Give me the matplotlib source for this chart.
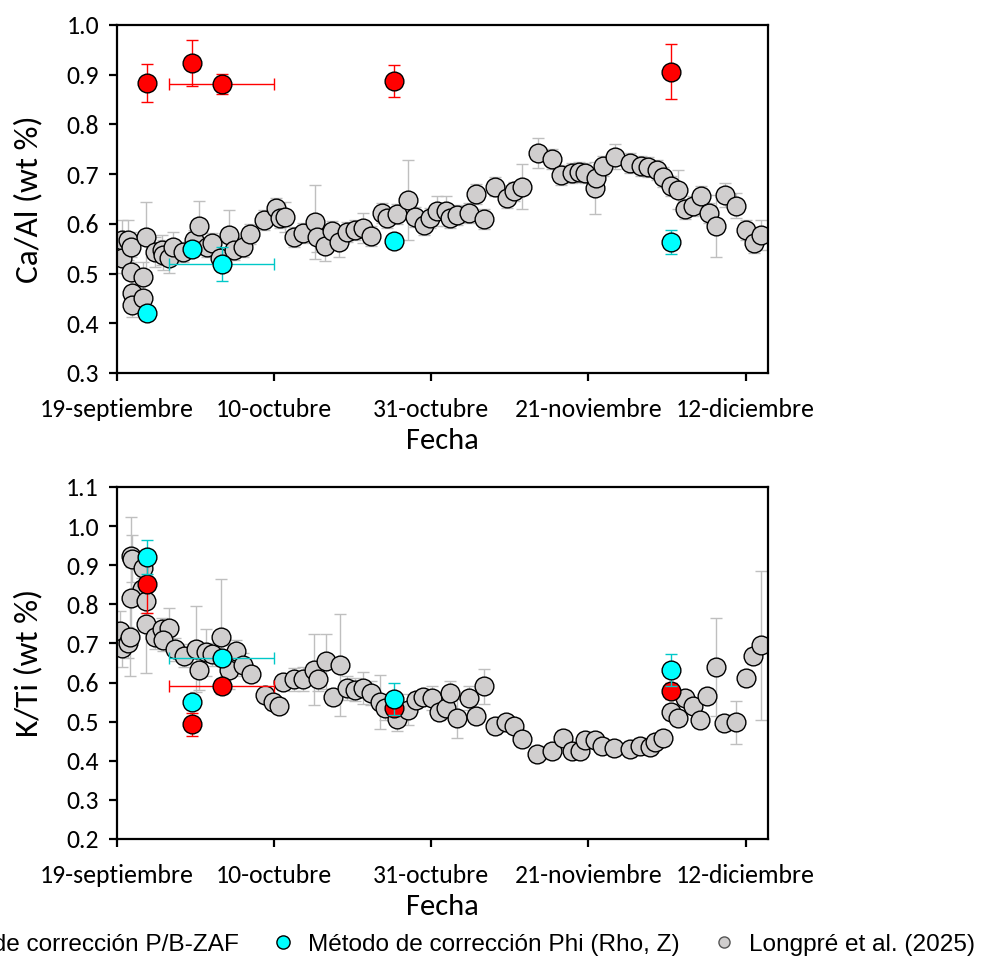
import matplotlib
matplotlib.use("Agg")
import matplotlib.pyplot as plt
from matplotlib.lines import Line2D
from matplotlib import font_manager as fm
import numpy as np

names = {f.name for f in fm.fontManager.ttflist}
TICK_FONT = "Carlito" if "Carlito" in names else "Lato"
LEG_FONT = "Liberation Sans"

# ---------------- data (x = days after 19-septiembre) ----------------
tick_days = [0, 21, 42, 63, 84]
tick_labels = ["19-septiembre", "10-octubre", "31-octubre", "21-noviembre", "12-diciembre"]

sample_days = [4, 10, 14, 37, 74]
sample_xerr = [0, 0, 7, 0, 0]

# Ca/Al panel
caal_pbzaf = [0.883, 0.924, 0.881, 0.887, 0.906]
caal_pbzaf_err = [0.038, 0.046, 0.020, 0.032, 0.055]
caal_phi = [0.420, 0.549, 0.519, 0.566, 0.563]
caal_phi_err = [0.01, 0.01, 0.034, 0.01, 0.024]

caal_long_x = [0.6, 0.6, 1.5, 1.8, 1.8, 2.0, 2.0, 3.5, 3.5, 3.9, 5.1, 6.0, 6.2, 6.9, 7.5,
               8.8, 10.3, 10.9, 12.0, 12.7, 13.8, 14.9, 15.6, 16.8, 17.8, 19.7, 21.3, 21.8,
               22.5, 23.6, 24.8, 26.5, 26.7, 27.8, 28.7, 29.6, 30.7, 31.8, 32.9, 33.9, 35.4,
               36.1, 37.4, 38.9, 39.8, 41.0, 41.8, 42.7, 43.9, 44.5, 45.4, 47.0, 48.0, 49.0,
               50.5, 52.1, 53.0, 54.1, 56.2, 58.1, 59.4, 60.8, 61.7, 62.6, 63.9, 64.0, 64.9,
               66.6, 68.6, 70.0, 71.0, 72.1, 73.0, 74.0, 75.0, 75.9, 77.0, 78.0, 79.1, 80.1,
               81.2, 82.7, 84.0, 85.1, 86.1]
caal_long_y = [0.568, 0.531, 0.568, 0.554, 0.504, 0.460, 0.437, 0.494, 0.450, 0.574, 0.544,
               0.547, 0.537, 0.531, 0.554, 0.544, 0.568, 0.596, 0.554, 0.561, 0.531, 0.578,
               0.547, 0.554, 0.580, 0.608, 0.631, 0.611, 0.614, 0.574, 0.581, 0.604, 0.574,
               0.556, 0.586, 0.564, 0.584, 0.588, 0.591, 0.576, 0.621, 0.611, 0.619, 0.648,
               0.613, 0.598, 0.611, 0.625, 0.625, 0.611, 0.618, 0.622, 0.660, 0.609, 0.675,
               0.651, 0.665, 0.675, 0.742, 0.730, 0.698, 0.702, 0.705, 0.702, 0.672, 0.692,
               0.716, 0.735, 0.722, 0.716, 0.715, 0.708, 0.695, 0.676, 0.669, 0.629, 0.636,
               0.656, 0.622, 0.596, 0.658, 0.636, 0.588, 0.562, 0.578]
caal_long_err = [0.04, 0.03, 0.04, 0.03, 0.03, 0.03, 0.025, 0.03, 0.03, 0.07, 0.03, 0.03,
                 0.03, 0.03, 0.03, 0.02, 0.02, 0.05, 0.02, 0.02, 0.02, 0.05, 0.02, 0.02,
                 0.02, 0.02, 0.02, 0.02, 0.03, 0.02, 0.02, 0.075, 0.03, 0.03, 0.02, 0.03,
                 0.02, 0.02, 0.03, 0.02, 0.02, 0.02, 0.02, 0.08, 0.02, 0.02, 0.02, 0.03,
                 0.03, 0.02, 0.02, 0.02, 0.02, 0.02, 0.02, 0.02, 0.02, 0.045, 0.03, 0.02,
                 0.02, 0.02, 0.02, 0.02, 0.053, 0.02, 0.02, 0.025, 0.02, 0.02, 0.02, 0.02,
                 0.02, 0.02, 0.04, 0.02, 0.02, 0.02, 0.02, 0.062, 0.025, 0.025, 0.02, 0.02,
                 0.03]

# K/Ti panel
kti_pbzaf = [0.853, 0.493, 0.592, 0.535, 0.579]
kti_pbzaf_err = [0.075, 0.03, 0.015, 0.02, 0.02]
kti_phi = [0.921, 0.550, 0.662, 0.558, 0.632]
kti_phi_err = [0.044, 0.01, 0.01, 0.04, 0.04]

kti_long_x = [0.4, 0.6, 1.5, 1.7, 1.8, 2.0, 3.5, 3.3, 1.8, 3.9, 3.9, 5.1, 6.0, 7.0, 6.2,
              7.8, 9.0, 10.6, 11.0, 11.9, 12.7, 13.9, 14.9, 15.9, 16.9, 17.9, 19.8, 20.8,
              21.6, 22.2, 23.6, 24.8, 26.3, 26.8, 27.9, 28.8, 29.8, 30.7, 31.8, 32.9, 33.9,
              35.2, 35.8, 37.4, 38.9, 40.0, 40.9, 42.1, 43.0, 43.9, 44.5, 45.4, 47.0, 48.0,
              49.0, 50.5, 52.0, 53.0, 54.1, 56.1, 58.1, 59.6, 60.8, 61.9, 62.6, 63.9, 64.8,
              66.4, 68.5, 69.9, 71.2, 71.9, 73.0, 74.0, 75.0, 75.9, 77.0, 77.9, 78.9, 80.0,
              81.1, 82.7, 84.0, 85.0, 86.1]
kti_long_y = [0.732, 0.689, 0.702, 0.717, 0.924, 0.917, 0.894, 0.838, 0.815, 0.808, 0.749,
              0.717, 0.736, 0.740, 0.710, 0.685, 0.669, 0.685, 0.631, 0.677, 0.672, 0.717,
              0.633, 0.680, 0.646, 0.621, 0.567, 0.550, 0.541, 0.601, 0.608, 0.609, 0.633,
              0.609, 0.654, 0.563, 0.644, 0.586, 0.582, 0.586, 0.573, 0.550, 0.535, 0.507,
              0.531, 0.556, 0.563, 0.560, 0.524, 0.535, 0.573, 0.509, 0.561, 0.514, 0.590,
              0.488, 0.498, 0.490, 0.455, 0.418, 0.424, 0.458, 0.426, 0.424, 0.452, 0.454,
              0.437, 0.432, 0.430, 0.437, 0.435, 0.449, 0.458, 0.524, 0.509, 0.561, 0.539,
              0.505, 0.565, 0.639, 0.497, 0.498, 0.612, 0.668, 0.695]
kti_long_err = [0.05, 0.05, 0.04, 0.10, 0.10, 0.06, 0.04, 0.03, 0.08, 0.03, 0.125, 0.03,
                0.03, 0.05, 0.03, 0.03, 0.03, 0.11, 0.05, 0.06, 0.03, 0.147, 0.05, 0.03,
                0.03, 0.02, 0.02, 0.02, 0.02, 0.02, 0.03, 0.03, 0.09, 0.03, 0.07, 0.02,
                0.13, 0.03, 0.03, 0.04, 0.03, 0.07, 0.03, 0.03, 0.04, 0.02, 0.02, 0.03,
                0.02, 0.02, 0.03, 0.05, 0.03, 0.02, 0.045, 0.02, 0.02, 0.02, 0.02, 0.02,
                0.02, 0.02, 0.02, 0.02, 0.02, 0.02, 0.02, 0.02, 0.02, 0.02, 0.02, 0.02,
                0.02, 0.02, 0.02, 0.02, 0.02, 0.02, 0.02, 0.125, 0.02, 0.056, 0.02, 0.02,
                0.19]

labels = ["Método de corrección P/B-ZAF", "Método de corrección Phi (Rho, Z)", "Longpré et al. (2025)"]

# ---------------- styling ----------------
RED = "#ff0000"
CYAN = "#00ffff"
GRAY = "#d0cece"
GRAY_ERR = "#bfbfbf"
MS = 13.5
TICK_FS = 18.5
LABEL_FS = 22

fig = plt.figure(figsize=(9.86, 9.63), dpi=100)
ax1 = fig.add_axes([0.1187, 0.6127, 0.6602, 0.3614])
ax2 = fig.add_axes([0.1187, 0.1288, 0.6602, 0.3655])


def draw(ax, lx, ly, lerr, red, rerr, cyan, cerr):
    ax.errorbar(lx, ly, yerr=lerr, fmt="o", ms=MS, mfc=GRAY, mec="black", mew=1.0,
                ecolor=GRAY_ERR, elinewidth=1.0, capsize=4, capthick=1.0, zorder=2)
    ax.errorbar(sample_days, red, yerr=rerr, xerr=sample_xerr, fmt="o", ms=MS, mfc=RED,
                mec="black", mew=1.0, ecolor=RED, elinewidth=1.0, capsize=4, capthick=1.0,
                zorder=3)
    ax.errorbar(sample_days, cyan, yerr=cerr, xerr=sample_xerr, fmt="o", ms=MS, mfc=CYAN,
                mec="black", mew=1.0, ecolor="#00c8c8", elinewidth=1.0, capsize=4,
                capthick=1.0, zorder=4)
    ax.set_xlim(0, 87)
    ax.set_xticks(tick_days)
    ax.set_xticklabels(tick_labels)
    for s in ax.spines.values():
        s.set_linewidth(1.6)
    ax.tick_params(axis="both", direction="out", length=6, width=1.6,
                   labelsize=TICK_FS)
    ax.tick_params(axis="x", pad=12)
    ax.tick_params(axis="y", pad=7)
    ax.set_xlabel("Fecha", fontsize=LABEL_FS, fontfamily=TICK_FONT, labelpad=5)


draw(ax1, caal_long_x, caal_long_y, caal_long_err, caal_pbzaf, caal_pbzaf_err,
     caal_phi, caal_phi_err)
ax1.set_ylim(0.3, 1.0)
ax1.set_yticks(np.arange(0.3, 1.01, 0.1))
ax1.set_yticklabels([f"{v:.1f}" for v in np.arange(0.3, 1.01, 0.1)])
ax1.set_ylabel("Ca/Al (wt %)", fontsize=24, fontfamily=TICK_FONT, labelpad=17)

draw(ax2, kti_long_x, kti_long_y, kti_long_err, kti_pbzaf, kti_pbzaf_err,
     kti_phi, kti_phi_err)
ax2.set_ylim(0.2, 1.1)
ax2.set_yticks(np.arange(0.2, 1.11, 0.1))
ax2.set_yticklabels([f"{v:.1f}" for v in np.arange(0.2, 1.11, 0.1)])
ax2.set_ylabel("K/Ti (wt %)", fontsize=24, fontfamily=TICK_FONT, labelpad=17)
for ax in (ax1, ax2):
    for lab in ax.get_xticklabels() + ax.get_yticklabels():
        lab.set_fontfamily(TICK_FONT)

handles = [
    Line2D([], [], ls="none", marker="o", ms=9.5, mfc=RED, mec="black", mew=1.0),
    Line2D([], [], ls="none", marker="o", ms=9.5, mfc=CYAN, mec="black", mew=1.0),
    Line2D([], [], ls="none", marker="o", ms=8, mfc=GRAY, mec="#555555", mew=1.0),
]
fig.legend(handles, labels, loc="center", bbox_to_anchor=(0.4275, 0.0187), ncol=3,
           frameon=False, prop={"family": LEG_FONT, "size": 17.6},
           handletextpad=0.52, columnspacing=1.3, handlelength=1.0, borderpad=0.2)

fig.savefig("out.png", dpi=100)
